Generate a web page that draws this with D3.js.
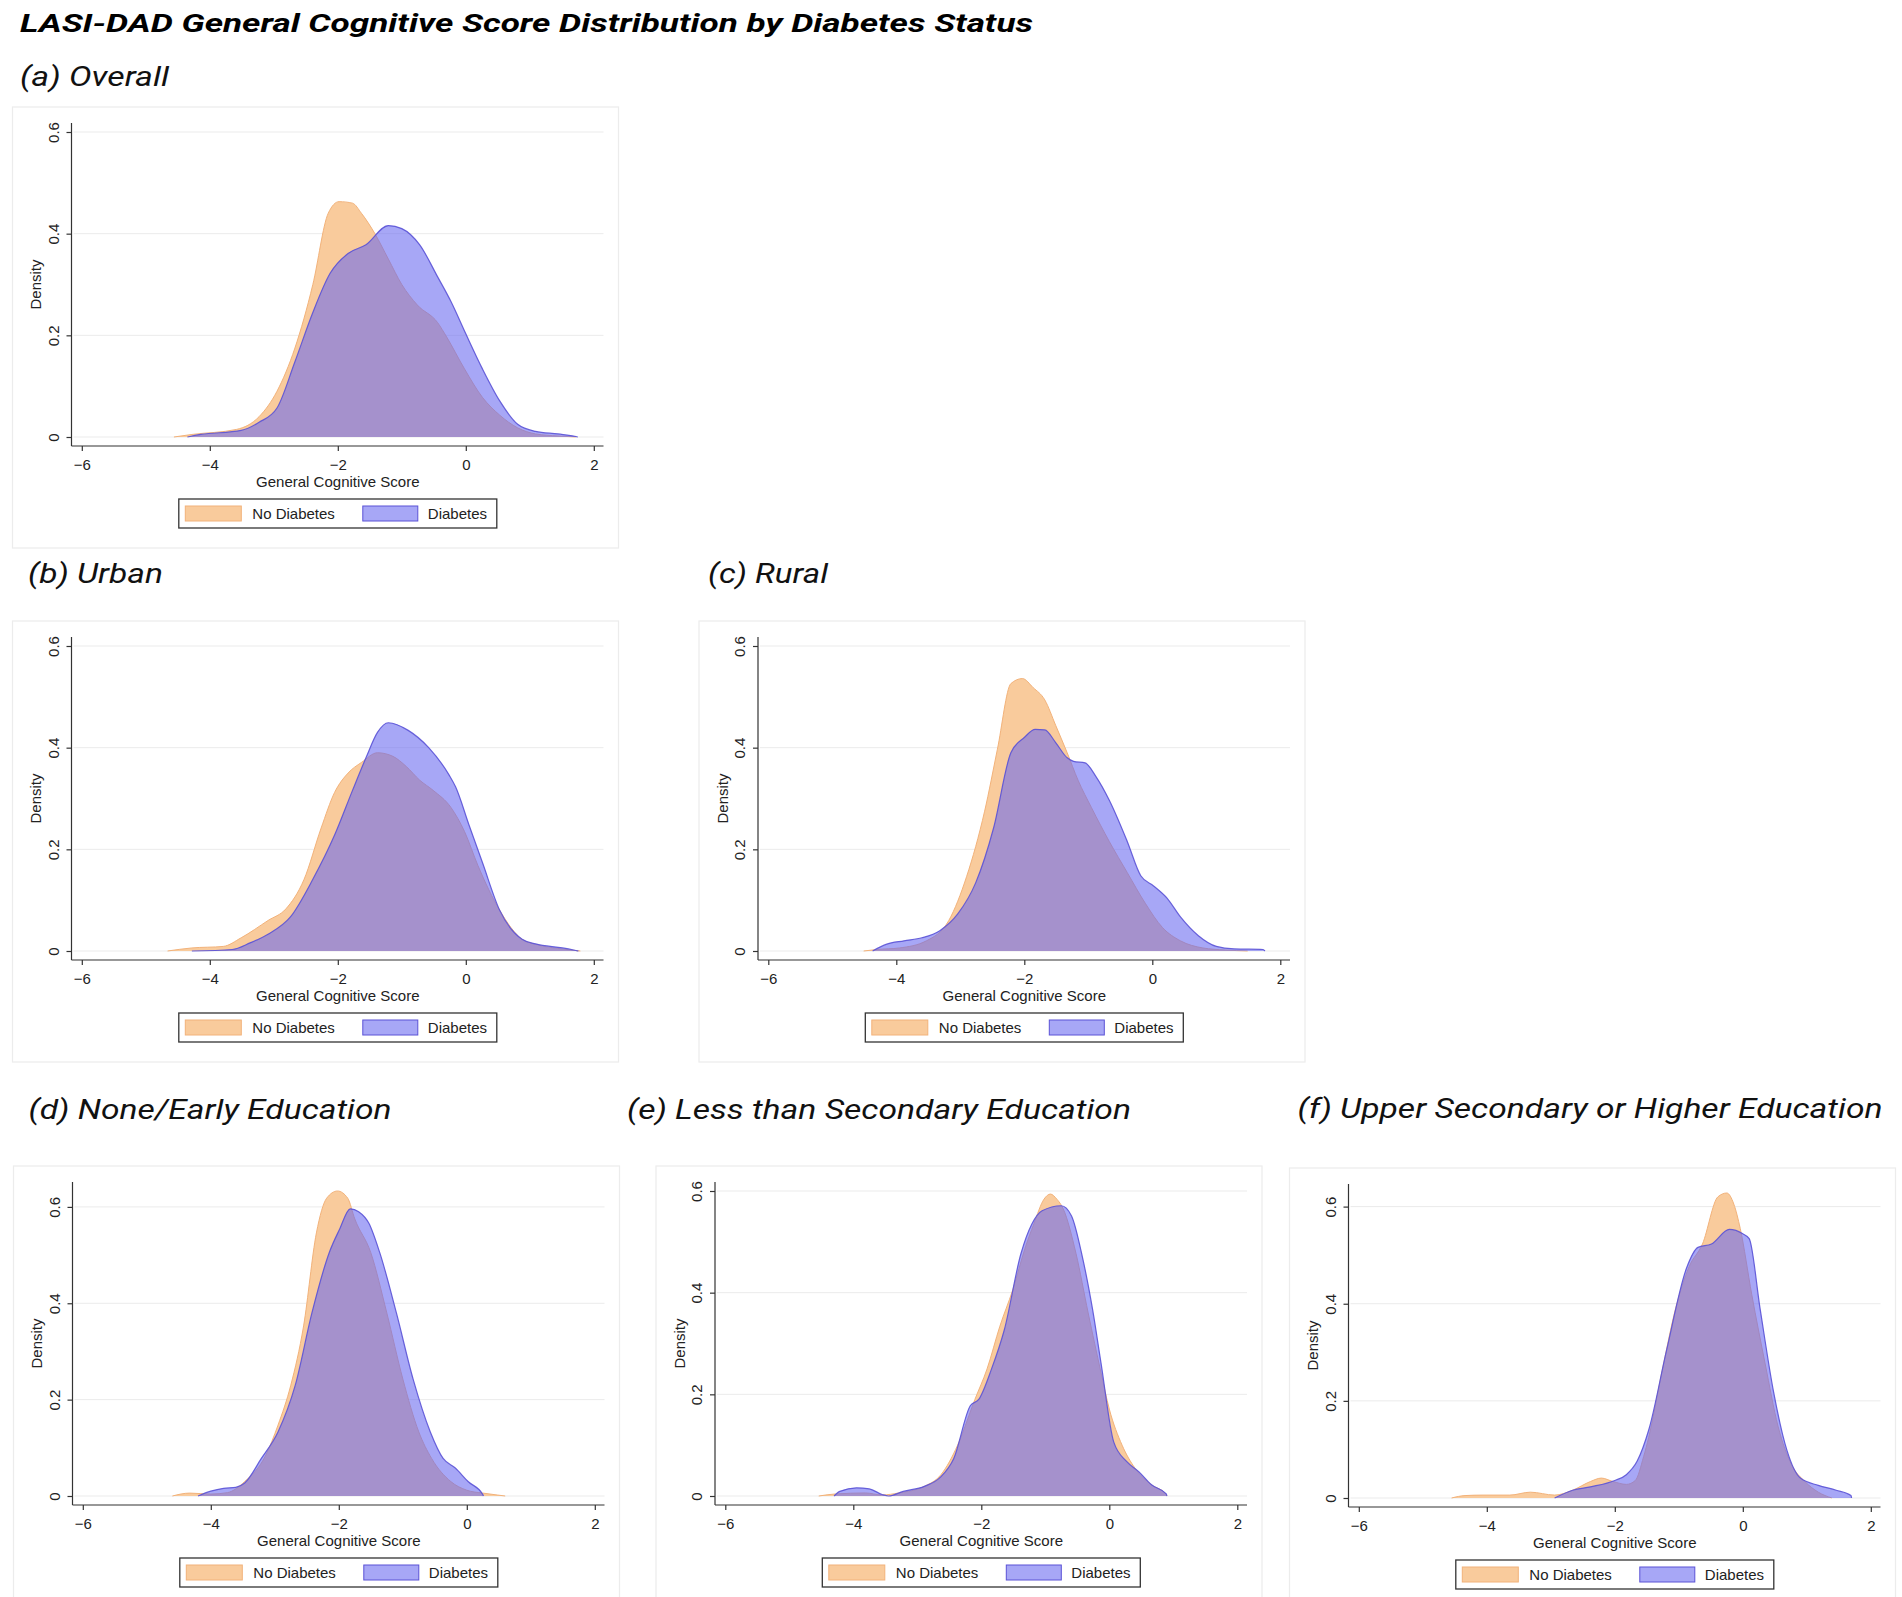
<!DOCTYPE html>
<html>
<head>
<meta charset="utf-8">
<title>LASI-DAD General Cognitive Score by Diabetes Status</title>
<script src="https://d3js.org/d3.v7.min.js"></script>
<style>
  body { margin:0; background:#fff; }
  .axis path, .axis line { stroke:#333; stroke-width:1.2; fill:none; }
  .axis .tick text { font-family:"Liberation Sans", Arial, sans-serif; font-size:15px; fill:#222; }
  .lab { font-family:"Liberation Sans", Arial, sans-serif; font-size:15px; fill:#222; }
  .grid { stroke:#ebebeb; stroke-width:1; }
</style>
</head>
<body>
<script>
var W = 1902, H = 1597;

// ---- labels ----
var mainTitle = "LASI-DAD General Cognitive Score Distribution by Diabetes Status";
var panelTitles = ["(a) Overall", "(b) Urban", "(c) Rural", "(d) None/Early Education",
                   "(e) Less than Secondary Education", "(f) Upper Secondary or Higher Education"];
var seriesNames = ["No Diabetes", "Diabetes"];
var xTitle = "General Cognitive Score";
var yTitle = "Density";
var xTicks = [-6, -4, -2, 0, 2];
var yTicks = [0, 0.2, 0.4, 0.6];
var yTickLabels = ["0", "0.2", "0.4", "0.6"];

// ---- density values [score, density] ----
var overallNo = [[-4.56,0],[-4.28,0.005],[-3.58,0.015],[-3.23,0.04],[-2.95,0.09],[-2.67,0.175],[-2.39,0.30],
  [-2.15,0.44],[-1.98,0.463],[-1.77,0.46],[-1.63,0.44],[-1.42,0.40],[-1.21,0.35],[-1.0,0.30],[-0.76,0.26],
  [-0.44,0.225],[-0.30,0.197],[-0.02,0.134],[0.26,0.078],[0.53,0.043],[0.81,0.018],[1.09,0.006],[1.44,0.002],[1.72,0]];
var overallDia = [[-4.35,0],[-4.28,0.002],[-4.14,0.005],[-3.51,0.013],[-3.23,0.029],[-2.95,0.057],[-2.67,0.148],
  [-2.39,0.245],[-2.12,0.322],[-1.84,0.361],[-1.56,0.378],[-1.21,0.416],[-1.0,0.41],[-0.72,0.378],[-0.44,0.315],
  [-0.23,0.266],[0,0.203],[0.26,0.134],[0.53,0.071],[0.81,0.025],[1.09,0.011],[1.44,0.006],[1.72,0.001],[1.75,0]];

var urbanNo = [[-4.66,0],[-4.28,0.006],[-3.79,0.009],[-3.51,0.026],[-3.09,0.06],[-2.81,0.083],[-2.53,0.14],
  [-2.26,0.242],[-2.05,0.312],[-1.84,0.35],[-1.63,0.371],[-1.38,0.39],[-1.14,0.383],[-0.93,0.363],[-0.72,0.336],
  [-0.51,0.316],[-0.23,0.282],[-0.02,0.235],[0.19,0.168],[0.53,0.08],[0.88,0.023],[1.09,0.013],[1.44,0.005],[1.79,0]];
var urbanDia = [[-4.28,0],[-3.65,0.003],[-3.37,0.016],[-3.09,0.033],[-2.74,0.067],[-2.39,0.141],[-2.05,0.228],
  [-1.77,0.316],[-1.56,0.38],[-1.38,0.43],[-1.21,0.449],[-0.90,0.434],[-0.58,0.40],[-0.26,0.346],[-0.16,0.323],
  [0.05,0.248],[0.26,0.174],[0.53,0.08],[0.88,0.023],[1.09,0.014],[1.51,0.006],[1.72,0.001],[1.76,0]];

var ruralNo = [[-4.51,0],[-4.30,0.003],[-3.95,0.006],[-3.53,0.02],[-3.18,0.06],[-2.90,0.147],[-2.62,0.275],
  [-2.42,0.397],[-2.21,0.526],[-2.03,0.536],[-1.86,0.518],[-1.68,0.494],[-1.51,0.444],[-1.33,0.39],[-1.16,0.336],
  [-0.95,0.282],[-0.67,0.215],[-0.39,0.154],[-0.11,0.094],[0.16,0.046],[0.44,0.02],[0.79,0.006],[1.14,0.002],[1.49,0]];
var ruralDia = [[-4.37,0],[-4.16,0.013],[-3.88,0.02],[-3.60,0.026],[-3.32,0.04],[-3.04,0.073],[-2.76,0.134],
  [-2.48,0.242],[-2.21,0.39],[-2.0,0.42],[-1.83,0.436],[-1.68,0.435],[-1.51,0.41],[-1.33,0.38],[-1.23,0.373],
  [-1.05,0.37],[-0.88,0.343],[-0.67,0.296],[-0.39,0.215],[-0.18,0.148],[0.02,0.128],[0.23,0.104],[0.44,0.067],
  [0.72,0.03],[1.0,0.009],[1.28,0.004],[1.73,0.003],[1.76,0]];

var eduNoneNo = [[-4.6,0],[-4.33,0.006],[-4.0,0.004],[-3.74,0.007],[-3.47,0.03],[-3.14,0.085],[-2.95,0.147],
  [-2.75,0.23],[-2.55,0.353],[-2.35,0.546],[-2.19,0.618],[-2.02,0.633],[-1.86,0.618],[-1.75,0.575],[-1.5,0.505],
  [-1.25,0.38],[-1.0,0.243],[-0.75,0.133],[-0.55,0.078],[-0.25,0.03],[0.0,0.012],[0.25,0.006],[0.48,0.002],[0.6,0]];
var eduNoneDia = [[-4.2,0],[-4.0,0.01],[-3.80,0.016],[-3.61,0.018],[-3.47,0.027],[-3.21,0.078],[-2.95,0.133],
  [-2.68,0.23],[-2.42,0.38],[-2.15,0.505],[-1.99,0.553],[-1.82,0.596],[-1.69,0.59],[-1.53,0.566],[-1.36,0.505],
  [-1.10,0.38],[-0.84,0.243],[-0.57,0.133],[-0.37,0.078],[-0.18,0.058],[0.02,0.03],[0.25,0.003],[0.26,0]];

var eduLessNo = [[-4.54,0],[-4.28,0.004],[-3.81,0.006],[-3.55,0.002],[-3.29,0.006],[-2.89,0.019],[-2.63,0.042],
  [-2.37,0.10],[-2.10,0.19],[-1.91,0.25],[-1.71,0.334],[-1.51,0.405],[-1.31,0.49],[-1.18,0.535],[-1.02,0.584],
  [-0.92,0.594],[-0.82,0.584],[-0.72,0.565],[-0.52,0.477],[-0.33,0.36],[-0.13,0.243],[0.0,0.171],[0.20,0.10],
  [0.40,0.055],[0.66,0.022],[0.89,0.003],[0.9,0]];
var eduLessDia = [[-4.30,0],[-4.21,0.009],[-3.95,0.016],[-3.75,0.014],[-3.55,0.003],[-3.45,0],[-3.22,0.009],
  [-2.89,0.019],[-2.63,0.038],[-2.43,0.074],[-2.17,0.178],[-2.04,0.19],[-1.84,0.25],[-1.64,0.327],[-1.38,0.477],
  [-1.21,0.535],[-1.05,0.561],[-0.75,0.571],[-0.59,0.551],[-0.42,0.47],[-0.26,0.366],[-0.13,0.262],[0.07,0.106],
  [0.27,0.068],[0.46,0.048],[0.66,0.022],[0.89,0.004],[0.9,0]];

var eduUpperNo = [[-4.55,0],[-4.34,0.005],[-4.06,0.006],[-3.64,0.006],[-3.32,0.012],[-2.94,0.006],[-2.66,0.016],
  [-2.38,0.034],[-2.21,0.041],[-2.03,0.034],[-1.82,0.028],[-1.68,0.036],[-1.55,0.085],[-1.47,0.125],[-1.26,0.262],
  [-1.05,0.39],[-0.84,0.476],[-0.63,0.523],[-0.39,0.62],[-0.25,0.628],[-0.14,0.605],[-0.04,0.555],[0.14,0.419],
  [0.35,0.276],[0.55,0.148],[0.76,0.069],[0.97,0.034],[1.18,0.012],[1.39,0]];
var eduUpperDia = [[-2.94,0],[-2.66,0.016],[-2.38,0.023],[-2.0,0.036],[-1.82,0.048],[-1.65,0.076],[-1.47,0.14],
  [-1.19,0.305],[-0.88,0.473],[-0.70,0.516],[-0.49,0.523],[-0.21,0.553],[0.0,0.544],[0.10,0.534],[0.27,0.39],
  [0.48,0.219],[0.69,0.098],[0.90,0.041],[1.18,0.026],[1.46,0.016],[1.69,0.005],[1.70,0]];

var panelSeries = [[overallNo, overallDia], [urbanNo, urbanDia], [ruralNo, ruralDia],
                   [eduNoneNo, eduNoneDia], [eduLessNo, eduLessDia], [eduUpperNo, eduUpperDia]];

// ---- layout (pixel positions) ----
var layout = [
  {fx:12.5, fy:107, tx:20,   ty:86,   tw:149},
  {fx:12.5, fy:621, tx:28,   ty:583,  tw:135},
  {fx:699,  fy:621, tx:708,  ty:583,  tw:120},
  {fx:13.5, fy:1166, tx:28.6, ty:1119, tw:363},
  {fx:656,  fy:1166, tx:627,  ty:1119, tw:504},
  {fx:1289.5, fy:1168, tx:1297.6, ty:1118, tw:585}
];
var frameW = 606, frameH = 441;
var regLeft = 59, regRight = 591, regTop = 16, regBot = 339;
var fillNo = "#f9cb9c", lineNo = "#f2b27a";
var fillDia = "#6868f0", lineDia = "#5a52d6", opDia = 0.58;

var svg = d3.select("body").append("svg")
  .attr("width", W).attr("height", H)
  .style("display", "block");
svg.append("rect").attr("width", W).attr("height", H).attr("fill", "#fff");

// main title
svg.append("text")
  .text(mainTitle)
  .attr("x", 20).attr("y", 32)
  .attr("font-family", "Roboto, sans-serif")
  .attr("font-weight", "bold").attr("font-style", "italic")
  .attr("font-size", "25px")
  .attr("textLength", 1013).attr("lengthAdjust", "spacingAndGlyphs")
  .attr("fill", "#000");

layout.forEach(function(p, i) {
  var series = panelSeries[i];

  svg.append("text")
    .text(panelTitles[i])
    .attr("x", p.tx).attr("y", p.ty)
    .attr("font-family", "Roboto, sans-serif")
    .attr("font-style", "italic")
    .attr("font-size", "28px")
    .attr("textLength", p.tw).attr("lengthAdjust", "spacingAndGlyphs")
    .attr("fill", "#111");

  var g = svg.append("g").attr("transform", "translate(" + p.fx + "," + p.fy + ")");
  g.append("rect").attr("width", frameW).attr("height", frameH)
    .attr("fill", "#fff").attr("stroke", "#ececec").attr("stroke-width", 1.2);

  var ymax = Math.max(0.6, d3.max(series, function(s) { return d3.max(s, function(d) { return d[1]; }); }));
  var x = d3.scaleLinear().domain([-6, 2]).range([regLeft + 10.3, regRight - 9.7]);
  var y = d3.scaleLinear().domain([0, ymax]).range([regBot - 9, regTop + 9]);

  // grid
  g.selectAll("line.grid").data(yTicks).enter().append("line")
    .attr("class", "grid")
    .attr("x1", regLeft + 2).attr("x2", regRight)
    .attr("y1", function(d) { return y(d); }).attr("y2", function(d) { return y(d); });

  // densities
  var area = d3.area().curve(d3.curveMonotoneX)
    .x(function(d) { return x(d[0]); }).y0(y(0)).y1(function(d) { return y(d[1]); });
  var line = d3.line().curve(d3.curveMonotoneX)
    .x(function(d) { return x(d[0]); }).y(function(d) { return y(d[1]); });

  g.append("path").datum(series[0]).attr("d", area).attr("fill", fillNo);
  g.append("path").datum(series[0]).attr("d", line).attr("fill", "none")
    .attr("stroke", lineNo).attr("stroke-width", 1);
  g.append("path").datum(series[1]).attr("d", area).attr("fill", fillDia).attr("fill-opacity", opDia);
  g.append("path").datum(series[1]).attr("d", line).attr("fill", "none")
    .attr("stroke", lineDia).attr("stroke-width", 1.2).attr("stroke-opacity", 0.9);

  // axes
  var gy = g.append("g").attr("class", "axis")
    .attr("transform", "translate(" + regLeft + ",0)")
    .call(d3.axisLeft(y).tickValues(yTicks)
      .tickFormat(function(d, k) { return yTickLabels[k]; })
      .tickSize(5).tickSizeOuter(0));
  gy.select(".domain").attr("d", "M0," + regTop + "V" + regBot);
  gy.selectAll(".tick text")
    .attr("transform", "rotate(-90)")
    .attr("x", 0).attr("y", -13).attr("dy", null)
    .attr("text-anchor", "middle");

  var gx = g.append("g").attr("class", "axis")
    .attr("transform", "translate(0," + regBot + ")")
    .call(d3.axisBottom(x).tickValues(xTicks).tickSize(5).tickSizeOuter(0));
  gx.select(".domain").attr("d", "M" + regLeft + ",0H" + regRight);
  gx.selectAll(".tick text").attr("y", 13).attr("dy", "0.71em");

  var cx = (x(-6) + x(2)) / 2;
  g.append("text").attr("class", "lab").text(xTitle)
    .attr("x", cx).attr("y", 380).attr("text-anchor", "middle");
  g.append("text").attr("class", "lab").text(yTitle)
    .attr("transform", "translate(28.5," + ((y(0) + y(ymax)) / 2) + ") rotate(-90)")
    .attr("text-anchor", "middle");

  // legend
  var lg = g.append("g").attr("transform", "translate(" + (cx - 159) + ",392)");
  lg.append("rect").attr("width", 318).attr("height", 29)
    .attr("fill", "#fff").attr("stroke", "#333").attr("stroke-width", 1.3);
  lg.append("rect").attr("x", 6.5).attr("y", 7).attr("width", 56).attr("height", 15)
    .attr("fill", fillNo).attr("stroke", lineNo).attr("stroke-width", 1);
  lg.append("text").attr("class", "lab").text(seriesNames[0]).attr("x", 73.5).attr("y", 20);
  lg.append("rect").attr("x", 184).attr("y", 7).attr("width", 55).attr("height", 15)
    .attr("fill", fillDia).attr("fill-opacity", opDia).attr("stroke", lineDia).attr("stroke-width", 1);
  lg.append("text").attr("class", "lab").text(seriesNames[1]).attr("x", 249).attr("y", 20);
});
</script>
</body>
</html>
